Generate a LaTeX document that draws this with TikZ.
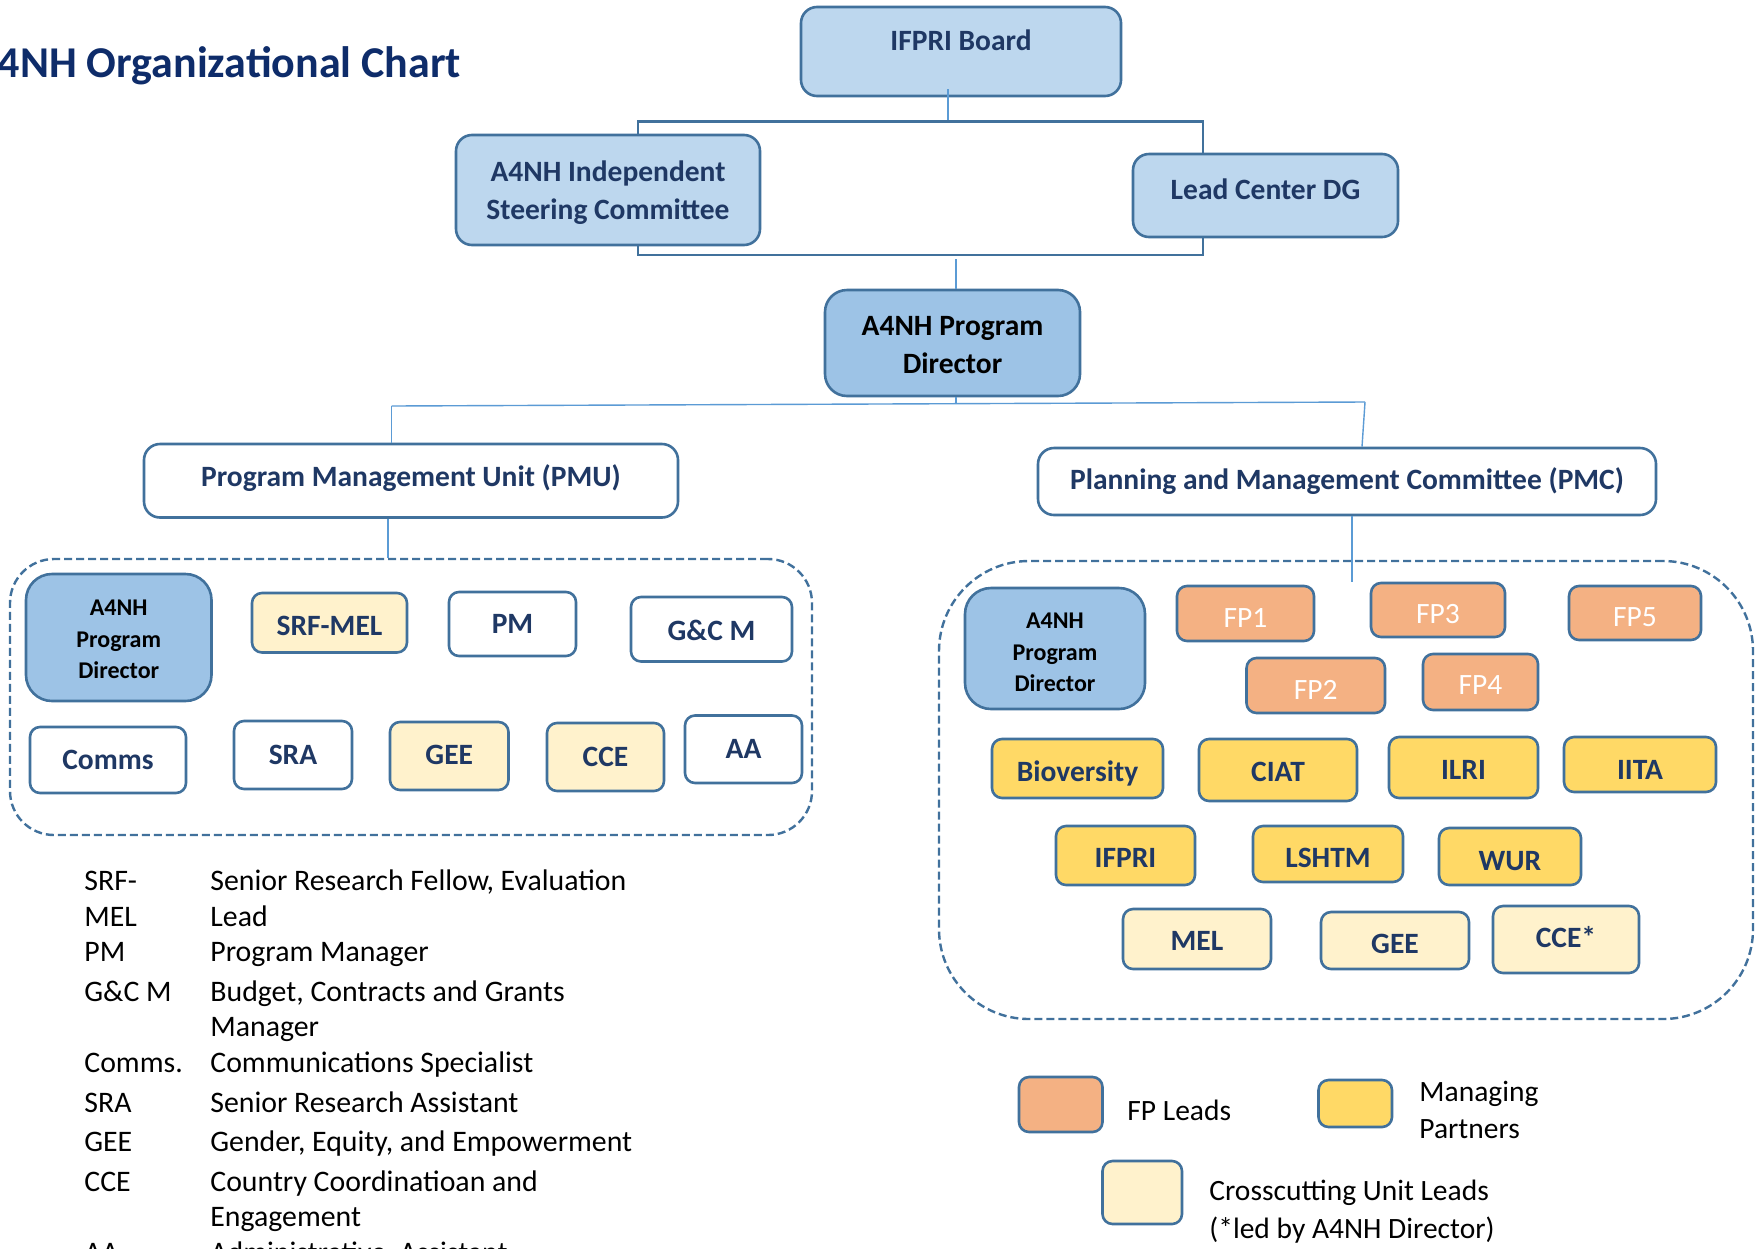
\documentclass[tikz,border=0pt]{standalone}
\usepackage{fontspec}
\setmainfont{Carlito}
\usetikzlibrary{calc}
\definecolor{bord}{HTML}{41719C}
\definecolor{navy}{HTML}{1F3864}
\definecolor{titlec}{HTML}{0E2C6A}
\definecolor{lblue}{HTML}{BDD7EE}
\definecolor{mblue}{HTML}{9DC3E6}
\definecolor{cream}{HTML}{FFF2CC}
\definecolor{yell}{HTML}{FFD966}
\definecolor{orng}{HTML}{F4B183}
\definecolor{connc}{HTML}{5B9BD5}
\newcommand{\bxfont}{\fontsize{14.75}{19}\selectfont\bfseries}
\newcommand{\smfont}{\fontsize{12}{15.75}\selectfont\bfseries}
\newcommand{\glfont}{\fontsize{14.9}{18}\selectfont}
\begin{document}
\begin{tikzpicture}[x=0.5pt,y=-0.5pt,
  box/.style={draw=bord, line width=1.3pt, rounded corners=5pt, inner sep=0pt, font=\bxfont, text=navy, align=center},
  th/.style={text height=#1pt, text depth=0pt},
  bigbox/.style={box, rounded corners=8pt},
  dirbox/.style={box, fill=mblue, rounded corners=11pt, text=black},
  btxt/.style={inner sep=0pt, font=\bxfont, text=navy, align=center},
  conn/.style={draw=connc, line width=0.7pt},
  bracket/.style={draw=bord, line width=1.4pt},
  dashbox/.style={draw=bord, line width=1.2pt, dash pattern=on 4pt off 2pt, inner sep=0pt},
  gl/.style={anchor=base west, inner sep=0pt, font=\glfont, text=black},
  lg/.style={anchor=west, inner sep=0pt, font=\fontsize{14.75}{18.5}\selectfont, text=black, align=left}
]
\useasboundingbox (0,0) rectangle (1764,1248);
\clip (0,0) rectangle (1764,1248);
\fill[white] (0,0) rectangle (1764,1248);

% title
\node[anchor=east, inner sep=0pt, font=\fontsize{22}{26}\selectfont\bfseries, text=titlec] (title) at (461.5,65.5) {A4NH Organizational Chart};

% top level
\node[bigbox, fill=lblue, minimum width=160pt, minimum height=44.5pt] (ifpri) at (961,51.5) {};
\node[btxt] (ifprit) at ([yshift=5.5pt]ifpri.center) {IFPRI Board};
\node[bigbox, fill=lblue, minimum width=152pt, minimum height=55pt] (isc) at (608,190) {};
\node[btxt] (isct) at ([yshift=-1.1pt]isc.center) {A4NH Independent\\Steering Committee};
\node[bigbox, fill=lblue, minimum width=132.5pt, minimum height=41.5pt] (lc) at (1265.5,195.5) {};
\node[btxt] (lct) at ([yshift=3.25pt]lc.center) {Lead Center DG};
\node[dirbox, minimum width=127.5pt, minimum height=53pt] (pd) at (952.5,343) {};
\node[btxt, text=black] (pdt) at ([yshift=-1.1pt]pd.center) {A4NH Program\\Director};

\coordinate (bt) at (948,121.5);
\coordinate (bb) at (956,255);
\coordinate (iscx) at ([xshift=15pt]isc.center);
\coordinate (lcx) at ([xshift=-31.25pt]lc.center);
\draw[conn] ([xshift=-6.5pt,yshift=4pt]ifpri.south) -- (bt);
\draw[bracket] (iscx |- isc.north) -- (iscx |- bt) -- (lcx |- bt) -- (lcx |- lc.north);
\draw[bracket] (iscx |- isc.south) -- (iscx |- bb) -- (lcx |- bb) -- (lcx |- lc.south);
\draw[conn] ([yshift=-2pt]bb) -- (bb |- pd.north);

% second level
\node[bigbox, th=5.5, fill=white, minimum width=267pt, minimum height=36.75pt] (pmu) at (411,480.75) {Program Management Unit (PMU)};
\node[bigbox, th=8.3, fill=white, minimum width=309pt, minimum height=33.5pt] (pmc) at (1347,481.5) {Planning and Management Committee (PMC)};
\coordinate (hl) at (391.5,406);
\coordinate (hr) at (1365,402);
\coordinate (hm) at (956,403.7);
\draw[conn] (hm |- pd.south) -- (hm);
\draw[conn] (hl) -- (hr);
\draw[conn] (hl) -- (hl |- pmu.north);
\draw[conn] (hr) -- ([xshift=7.5pt]pmc.north);

% dashed groups
\node[dashbox, rounded corners=22pt, minimum width=401pt, minimum height=138pt] (ldash) at (411,697) {};
\node[dashbox, rounded corners=45pt, minimum width=407pt, minimum height=229pt] (rdash) at (1346,790) {};
\coordinate (lx) at (388,0);
\draw[conn] (lx |- pmu.south) -- (lx |- ldash.north);
\coordinate (rin) at (1352,582);
\draw[conn] (rin |- pmc.south) -- (rin);

% PMU members
\node[dirbox, minimum width=92.75pt, minimum height=63.5pt, rounded corners=13pt] (lpd) at (118.75,637.5) {};
\node[btxt, font=\smfont, text=black] (lpdt) at ([yshift=-1.1pt]lpd.center) {A4NH\\Program\\Director};
\node[box, th=12.3, fill=cream, minimum width=77.5pt, minimum height=29.75pt] (srf) at (329.5,622.75) {SRF-MEL};
\node[box, th=9.5, fill=white, minimum width=63.5pt, minimum height=32pt] (pm) at (512.5,624) {PM};
\node[box, th=11.1, fill=white, minimum width=80.5pt, minimum height=32.25pt] (gcm) at (711.5,629.25) {G\&C M};
\node[box, th=9.5, fill=white, minimum width=78pt, minimum height=33pt] (comms) at (108,760) {Comms};
\node[box, th=9.5, fill=white, minimum width=59pt, minimum height=34pt] (sra) at (293,755) {SRA};
\node[box, th=8.5, fill=cream, minimum width=59.25pt, minimum height=34pt] (gee) at (449.25,756) {GEE};
\node[box, th=9.5, fill=cream, minimum width=58.5pt, minimum height=34pt] (cce) at (605.5,757) {CCE};
\node[box, th=9.5, fill=white, minimum width=58.5pt, minimum height=33.75pt] (aa) at (743.5,749.25) {AA};

% PMC members
\node[dirbox, minimum width=90pt, minimum height=60.5pt, rounded corners=13pt] (rpd) at (1055,648.5) {};
\node[btxt, font=\smfont, text=black] (rpdt) at ([yshift=-2pt]rpd.center) {A4NH\\Program\\Director};
\node[box, th=13.5, fill=orng, text=white, minimum width=68.5pt, minimum height=27.5pt, font=\fontsize{14.75}{19}\selectfont] (fp1) at (1245.5,613.5) {FP1};
\node[box, th=13.9, fill=orng, text=white, minimum width=67pt, minimum height=27pt, font=\fontsize{14.75}{19}\selectfont] (fp3) at (1438,610) {FP3};
\node[box, th=13.9, fill=orng, text=white, minimum width=66pt, minimum height=27pt, font=\fontsize{14.75}{19}\selectfont] (fp5) at (1635,613) {FP5};
\node[box, th=13.5, fill=orng, text=white, minimum width=69.25pt, minimum height=27.5pt, font=\fontsize{14.75}{19}\selectfont] (fp2) at (1315.75,685.5) {FP2};
\node[box, th=12.9, fill=orng, text=white, minimum width=57.5pt, minimum height=28pt, font=\fontsize{14.75}{19}\selectfont] (fp4) at (1480.5,682) {FP4};
\node[box, th=12.9, fill=yell, minimum width=85.5pt, minimum height=29.5pt] (bio) at (1077.5,768.5) {Bioversity};
\node[box, th=11.1, fill=yell, minimum width=79pt, minimum height=31pt] (ciat) at (1278,770) {CIAT};
\node[box, th=11.7, fill=yell, minimum width=74.5pt, minimum height=30.5pt] (ilri) at (1463.5,767.5) {ILRI};
\node[box, th=14.5, fill=yell, minimum width=76pt, minimum height=27.5pt] (iita) at (1640,764.5) {IITA};
\node[box, th=12.3, fill=yell, minimum width=69.5pt, minimum height=29.5pt] (ifpr) at (1125.5,855.5) {IFPRI};
\node[box, th=13.9, fill=yell, minimum width=75pt, minimum height=28pt] (lshtm) at (1328,854) {LSHTM};
\node[box, th=13.5, fill=yell, minimum width=71pt, minimum height=28.5pt] (wur) at (1510,856.5) {WUR};
\node[box, th=11.1, fill=cream, minimum width=74pt, minimum height=30pt] (mel) at (1197,939) {MEL};
\node[box, th=12.9, fill=cream, minimum width=74pt, minimum height=28.5pt] (gee2) at (1395,940.5) {GEE};
\node[box, th=8.3, fill=cream, minimum width=73pt, minimum height=33.5pt] (cce2) at (1566,939.5) {CCE*};

% legend
\node[box, fill=orng, minimum width=41.75pt, minimum height=27.5pt] (lgfp) at (1060.75,1104.5) {};
\node[box, fill=yell, minimum width=36.75pt, minimum height=23.5pt] (lgmp) at (1355.25,1103.5) {};
\node[box, fill=cream, minimum width=39.75pt, minimum height=31.5pt] (lgcc) at (1142.25,1192.5) {};
\node[lg] (lgfpt) at (1127,1110) {FP Leads};
\node[lg] (lgmpt) at (1419,1110) {Managing\\Partners};
\node[lg, font=\fontsize{14.75}{19}\selectfont] (lgcct) at (1209,1211.5) {Crosscutting Unit Leads\\(*led by A4NH Director)};

% glossary
\node[gl] (g1a) at (84,890) {SRF-};
\node[gl] (g1b) at (210,890) {Senior Research Fellow, Evaluation};
\node[gl] (g2a) at (84,926) {MEL};
\node[gl] (g2b) at (210,926) {Lead};
\node[gl] (g3a) at (84,961) {PM};
\node[gl] (g3b) at (210,961) {Program Manager};
\node[gl] (g4a) at (84,1001) {G\&C M};
\node[gl] (g4b) at (210,1001) {Budget, Contracts and Grants};
\node[gl] (g5b) at (210,1036) {Manager};
\node[gl] (g6a) at (84,1072) {Comms.};
\node[gl] (g6b) at (210,1072) {Communications Specialist};
\node[gl] (g7a) at (84,1112.5) {SRA};
\node[gl] (g7b) at (210,1112.5) {Senior Research Assistant};
\node[gl] (g8a) at (84,1151) {GEE};
\node[gl] (g8b) at (210,1151) {Gender, Equity, and Empowerment};
\node[gl] (g9a) at (84,1191) {CCE};
\node[gl] (g9b) at (210,1191) {Country Coordinatioan and};
\node[gl] (g10b) at (210,1226) {Engagement};
\node[gl] (g11a) at (84,1262) {AA};
\node[gl] (g11b) at (210,1262) {Administrative\ \ Assistant};
\end{tikzpicture}
\end{document}
